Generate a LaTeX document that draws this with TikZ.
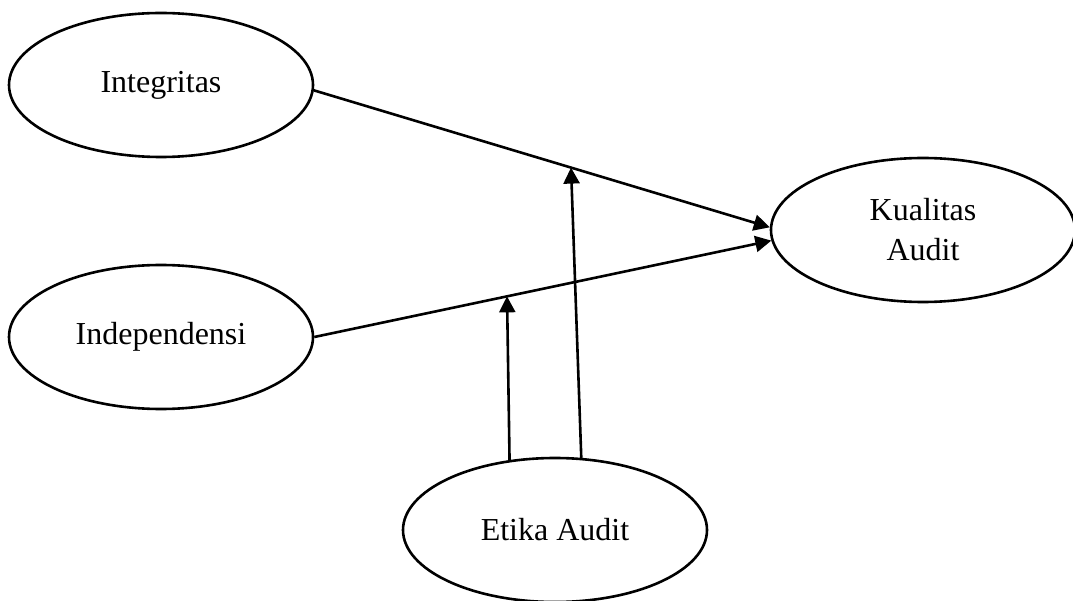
\documentclass[tikz,border=0pt]{standalone}
\usepackage{fontspec}
\setmainfont{Liberation Serif}
\usetikzlibrary{shapes.geometric,arrows.meta,calc}

\begin{document}
\begin{tikzpicture}[x=1pt,y=-1pt,
  var/.style={draw, ellipse, line width=2.6pt, inner sep=0pt,
    minimum width=304pt, minimum height=144pt, align=center,
    font=\fontsize{32}{40}\selectfont},
  arr/.style={line width=2.6pt, -{Triangle[length=16pt,width=16pt]}}]
  \useasboundingbox (0,0) rectangle (1073,601);

  % variables
  \node[var] (int)   at (161,85)  {Integritas};
  \node[var] (ind)   at (161,337) {Independensi};
  \node[var] (kual)  at (923,230) {Kualitas\\Audit};
  \node[var] (etika) at (555,530) {Etika Audit};

  % direct effects
  \draw[arr] (int.-2.6) -- (kual.179.2);
  \draw[arr] (ind.0) -- (kual.184.6);

  % points where the moderator acts on each path
  \coordinate (m1) at ($(ind.0)!0.4217!(kual.184.6)$);
  \coordinate (m2) at ($(int.-2.6)!0.564!(kual.179.2)$);

  % moderating effects
  \draw[arr] (etika.123.5) -- (m1);
  \draw[arr] (etika.70.3) -- (m2);
\end{tikzpicture}
\end{document}
